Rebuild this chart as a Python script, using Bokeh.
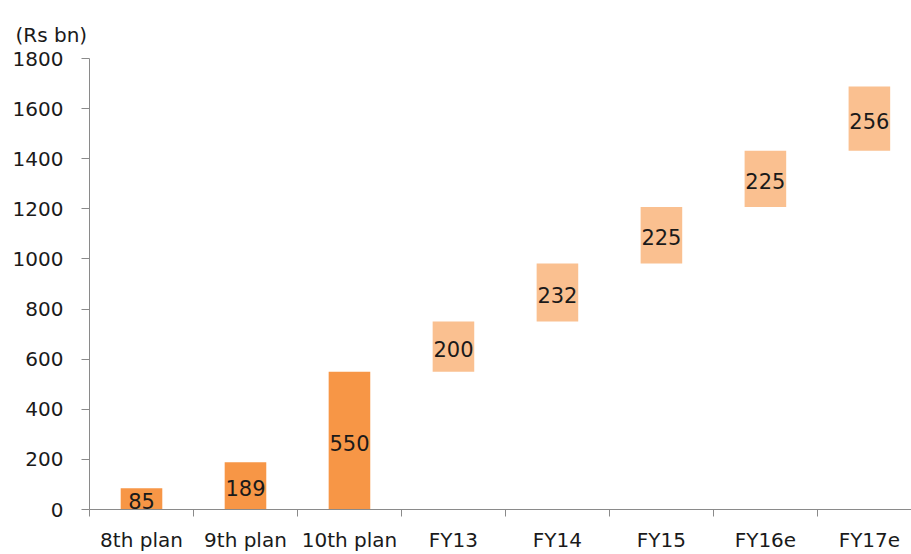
import numpy as np
from bokeh.plotting import figure
from bokeh.models import Range1d, FixedTicker, ColumnDataSource
from bokeh.embed import file_html
from bokeh.resources import INLINE
from bokeh.core.properties import value

# ---- data ----
categories = ["8th plan", "9th plan", "10th plan", "FY13", "FY14", "FY15", "FY16e", "FY17e"]
plan_values = [85, 189, 550]
fy_increments = [200, 232, 225, 225, 256]
y_ticks = [0, 200, 400, 600, 800, 1000, 1200, 1400, 1600, 1800]
unit_label = "(Rs bn)"

plan_color = "#F79646"
fy_color = "#FAC090"
text_color = "#1a1a1a"
axis_color = "#8a8a8a"
font = "DejaVu Sans"

# ---- derived ----
n = len(categories)
xs = np.arange(n) + 0.5
fy_bottoms = list(plan_values[-1] + np.concatenate([[0], np.cumsum(fy_increments)[:-1]]))
bottoms = [0] * len(plan_values) + fy_bottoms
amounts = plan_values + fy_increments
tops = [b + a for b, a in zip(bottoms, amounts)]
colors = [plan_color] * len(plan_values) + [fy_color] * len(fy_increments)

src = ColumnDataSource(dict(
    x=xs, bottom=bottoms, top=tops, color=colors,
    mid=[(b + t) / 2 for b, t in zip(bottoms, tops)],
    label=[str(a) for a in amounts],
))

p = figure(width=911, height=554, output_backend="svg", toolbar_location=None,
           x_range=Range1d(0, 7.905), y_range=Range1d(0, 1800),
           min_border_left=89, min_border_right=0, min_border_top=58, min_border_bottom=45)
p.outline_line_color = None
p.xgrid.grid_line_color = None
p.ygrid.grid_line_color = None
p.background_fill_color = "white"
p.border_fill_color = "white"

p.vbar(x="x", bottom="bottom", top="top", width=0.4, color="color", line_color=None, source=src)
p.text(x="x", y="mid", text="label", source=src, text_align="center", text_baseline="middle",
       y_offset=2, text_font=value(font), text_font_size="21px", text_color=text_color)

# x axis
xa = p.xaxis[0]
xa.ticker = FixedTicker(ticks=list(xs), minor_ticks=list(range(n + 1)))
xa.major_label_overrides = {float(x): c for x, c in zip(xs, categories)}
xa.major_tick_out = 0
xa.major_tick_in = 0
xa.minor_tick_out = 7
xa.minor_tick_in = 0
xa.minor_tick_line_color = axis_color
xa.axis_line_color = axis_color
xa.major_label_standoff = 11
xa.major_label_text_line_height = 1.0
xa.major_label_text_font = font
xa.major_label_text_font_size = "20px"
xa.major_label_text_color = text_color

# y axis
ya = p.yaxis[0]
ya.ticker = FixedTicker(ticks=y_ticks)
ya.major_tick_out = 8
ya.major_tick_in = 0
ya.minor_tick_out = 0
ya.minor_tick_in = 0
ya.major_tick_line_color = axis_color
ya.axis_line_color = axis_color
ya.major_label_standoff = 18
ya.major_label_text_font = font
ya.major_label_text_font_size = "20px"
ya.major_label_text_color = text_color

# unit title
p.title.text = unit_label
p.title.align = "left"
p.title.offset = -74
p.title.standoff = 23
p.title.text_font = font
p.title.text_font_size = "20px"
p.title.text_font_style = "normal"
p.title.text_color = text_color

open("out.html", "w").write(file_html(p, INLINE))
